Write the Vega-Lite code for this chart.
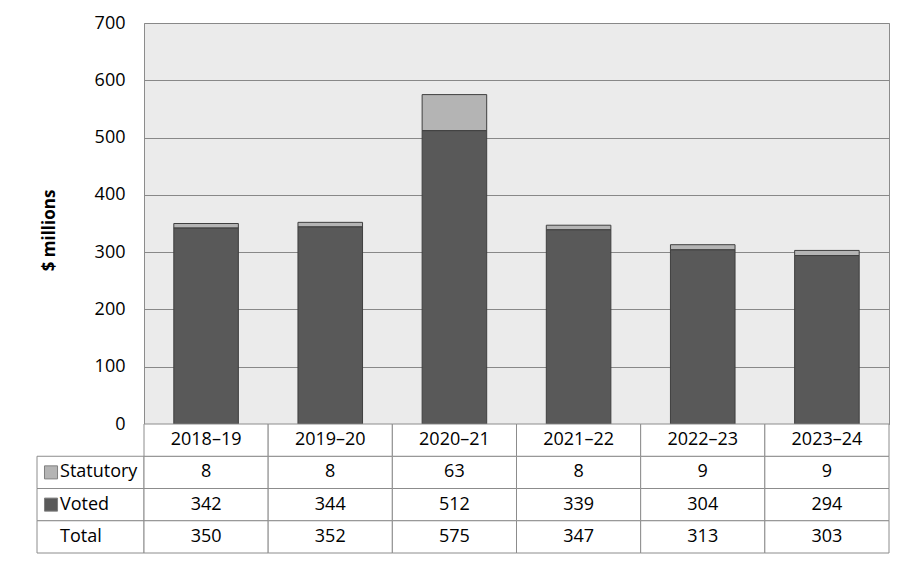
{
  "$schema": "https://vega.github.io/schema/vega-lite/v6.json",
  "padding": {"left": 36, "top": 13, "right": 0, "bottom": 0},
  "background": "white",
  "config": {
    "view": {"stroke": null},
    "font": "Open Sans",
    "text": {"font": "Open Sans", "fontSize": 18, "color": "#000000"}
  },
  "datasets": {
    "budget": [
      {"year": "2018–19", "series": "Statutory", "value": 8},
      {"year": "2018–19", "series": "Voted", "value": 342},
      {"year": "2018–19", "series": "Total", "value": 350},
      {"year": "2019–20", "series": "Statutory", "value": 8},
      {"year": "2019–20", "series": "Voted", "value": 344},
      {"year": "2019–20", "series": "Total", "value": 352},
      {"year": "2020–21", "series": "Statutory", "value": 63},
      {"year": "2020–21", "series": "Voted", "value": 512},
      {"year": "2020–21", "series": "Total", "value": 575},
      {"year": "2021–22", "series": "Statutory", "value": 8},
      {"year": "2021–22", "series": "Voted", "value": 339},
      {"year": "2021–22", "series": "Total", "value": 347},
      {"year": "2022–23", "series": "Statutory", "value": 9},
      {"year": "2022–23", "series": "Voted", "value": 304},
      {"year": "2022–23", "series": "Total", "value": 313},
      {"year": "2023–24", "series": "Statutory", "value": 9},
      {"year": "2023–24", "series": "Voted", "value": 294},
      {"year": "2023–24", "series": "Total", "value": 303}
    ]
  },
  "data": {"name": "budget"},
  "columns": 2,
  "spacing": 0,
  "bounds": "flush",
  "concat": [
    {
      "width": 107,
      "height": 401,
      "mark": {"type": "point", "opacity": 0},
      "encoding": {}
    },
    {
      "width": 745,
      "height": 401,
      "view": {"fill": "#ebebeb", "stroke": "#8c8c8c"},
      "transform": [{"filter": "datum.series !== 'Total'"}],
      "mark": {"type": "bar", "stroke": "#3f3f3f", "strokeWidth": 1},
      "encoding": {
        "x": {
          "field": "year", "type": "nominal", "sort": null,
          "scale": {"paddingInner": 0.48, "paddingOuter": 0.24},
          "axis": null
        },
        "y": {
          "field": "value", "type": "quantitative", "stack": "zero",
          "scale": {"domain": [0, 700], "nice": false},
          "axis": {
            "values": [0, 100, 200, 300, 400, 500, 600, 700],
            "title": "$ millions",
            "titleFont": "Open Sans", "titleFontSize": 17, "titleFontWeight": "bold",
            "titleColor": "#000000", "titlePadding": 36, "titleY": 207,
            "labelFont": "Open Sans", "labelFontSize": 18, "labelColor": "#000000",
            "labelPadding": 19,
            "domain": false, "ticks": false,
            "grid": true, "gridColor": "#888888", "gridWidth": 1
          }
        },
        "color": {
          "field": "series", "type": "nominal",
          "scale": {"domain": ["Statutory", "Voted"], "range": ["#b4b4b4", "#595959"]},
          "legend": null
        },
        "order": {"field": "series", "sort": "descending"}
      }
    },
    {
      "width": 107,
      "height": 129,
      "transform": [{"filter": "datum.year === '2018–19'"}],
      "encoding": {
        "y": {
          "field": "series", "type": "nominal",
          "scale": {"domain": ["header", "Statutory", "Voted", "Total"], "paddingInner": 0, "paddingOuter": 0},
          "axis": null
        }
      },
      "layer": [
        {
          "mark": {"type": "rect", "fill": "white", "stroke": "#8c8c8c", "strokeWidth": 1}
        },
        {
          "transform": [{"filter": "datum.series !== 'Total'"}],
          "mark": {"type": "point", "shape": "square", "filled": true, "size": 170, "stroke": "#7f7f7f", "strokeWidth": 1, "opacity": 1},
          "encoding": {
            "x": {"datum": "key", "type": "nominal", "scale": {"type": "point", "domain": ["key"], "align": 0.131}, "axis": null},
            "color": {"field": "series", "type": "nominal", "legend": null}
          }
        },
        {
          "mark": {"type": "text", "align": "left", "baseline": "middle", "fontSize": 18, "dx": 9},
          "encoding": {
            "x": {"datum": "key", "type": "nominal"},
            "text": {"field": "series"}
          }
        }
      ]
    },
    {
      "width": 745,
      "height": 129,
      "encoding": {
        "x": {
          "field": "year", "type": "nominal", "sort": null,
          "scale": {"paddingInner": 0, "paddingOuter": 0},
          "axis": null
        }
      },
      "layer": [
        {
          "mark": {"type": "rect", "fill": "white", "stroke": "#8c8c8c", "strokeWidth": 1},
          "encoding": {
            "y": {
              "field": "series", "type": "nominal",
              "scale": {"domain": ["header", "Statutory", "Voted", "Total"], "paddingInner": 0, "paddingOuter": 0},
              "axis": null
            }
          }
        },
        {
          "transform": [{"filter": "datum.series === 'Total'"}],
          "mark": {"type": "rect", "fill": "white", "stroke": "#8c8c8c", "strokeWidth": 1},
          "encoding": {"y": {"datum": "header", "type": "nominal"}}
        },
        {
          "mark": {"type": "text", "align": "center", "baseline": "middle", "fontSize": 18},
          "encoding": {
            "y": {"field": "series", "type": "nominal"},
            "text": {"field": "value", "type": "quantitative", "format": "d"}
          }
        },
        {
          "transform": [{"filter": "datum.series === 'Total'"}],
          "mark": {"type": "text", "align": "center", "baseline": "middle", "fontSize": 18},
          "encoding": {
            "y": {"datum": "header", "type": "nominal"},
            "text": {"field": "year", "type": "nominal"}
          }
        }
      ]
    }
  ]
}
